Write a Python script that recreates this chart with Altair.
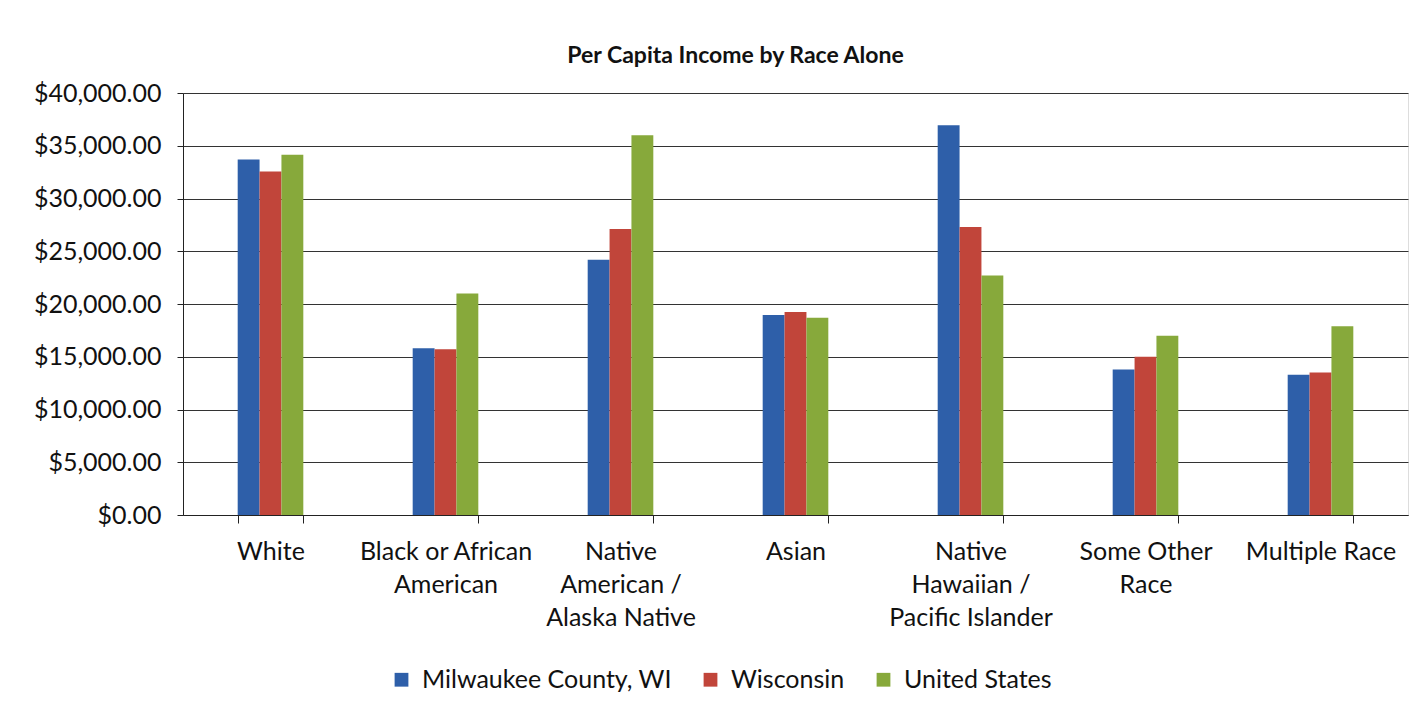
import altair as alt
import pandas as pd

categories = ["White", "Black or African|American", "Native|American /|Alaska Native", "Asian",
              "Native|Hawaiian /|Pacific Islander", "Some Other|Race", "Multiple Race"]
series = ["Milwaukee County, WI", "Wisconsin", "United States"]
milwaukee = [33700, 15800, 24200, 18950, 36950, 13800, 13300]
wisconsin = [32550, 15700, 27100, 19250, 27300, 15000, 13500]
united_states = [34150, 21000, 36000, 18700, 22700, 17000, 17900]
colors = ["#2E5FA9", "#C1453A", "#87A93B"]

rows = []
for s, vals in zip(series, [milwaukee, wisconsin, united_states]):
    for c, v in zip(categories, vals):
        rows.append({"race": c, "area": s, "income": v})
df = pd.DataFrame(rows)

FONT = "Lato"

chart = alt.Chart(df).mark_bar().encode(
    x=alt.X("race:N", sort=categories, title=None,
            scale=alt.Scale(paddingInner=0.625, paddingOuter=0.3125),
            axis=alt.Axis(labelExpr="split(datum.label, '|')", labelAngle=0,
                          labelFontSize=25, labelLineHeight=33, labelColor="#111",
                          labelPadding=16, tickBand="extent", tickSize=8,
                          tickColor="#222", domainColor="#222", grid=False,
                          labelFont=FONT, labelBaseline="top", labelLimit=300)),
    xOffset=alt.XOffset("area:N", sort=series),
    y=alt.Y("income:Q", title=None,
            scale=alt.Scale(domain=[0, 40000], nice=False),
            axis=alt.Axis(format="$,.2f", values=list(range(0, 40001, 5000)),
                          labelFontSize=25, labelColor="#111", labelFont=FONT,
                          tickSize=6, tickColor="#222", domainColor="#222",
                          gridColor="#333", gridWidth=1, labelPadding=16)),
    color=alt.Color("area:N", sort=series,
                    scale=alt.Scale(domain=series, range=colors),
                    legend=alt.Legend(title=None, orient="none", direction="horizontal",
                                      legendX=206, legendY=574,
                                      symbolType="square", symbolSize=190,
                                      symbolStrokeWidth=0, labelFontSize=25,
                                      labelFont=FONT, labelColor="#111",
                                      labelLimit=400, columnPadding=26,
                                      labelOffset=8, symbolOffset=0)),
).properties(
    width=1225, height=422,
    title=alt.TitleParams("Per Capita Income by Race Alone", fontSize=23,
                          fontWeight="bold", font=FONT, color="#111",
                          offset=13, dx=-60),
    padding={"left": 183, "top": 93, "right": 16, "bottom": 206},
    autosize=alt.AutoSizeParams(type="none"),
).configure_view(
    fill="#EFEFEC", stroke=None
).configure(background="white")

chart.save("out.html", embed_options={"renderer": "svg", "actions": False})
